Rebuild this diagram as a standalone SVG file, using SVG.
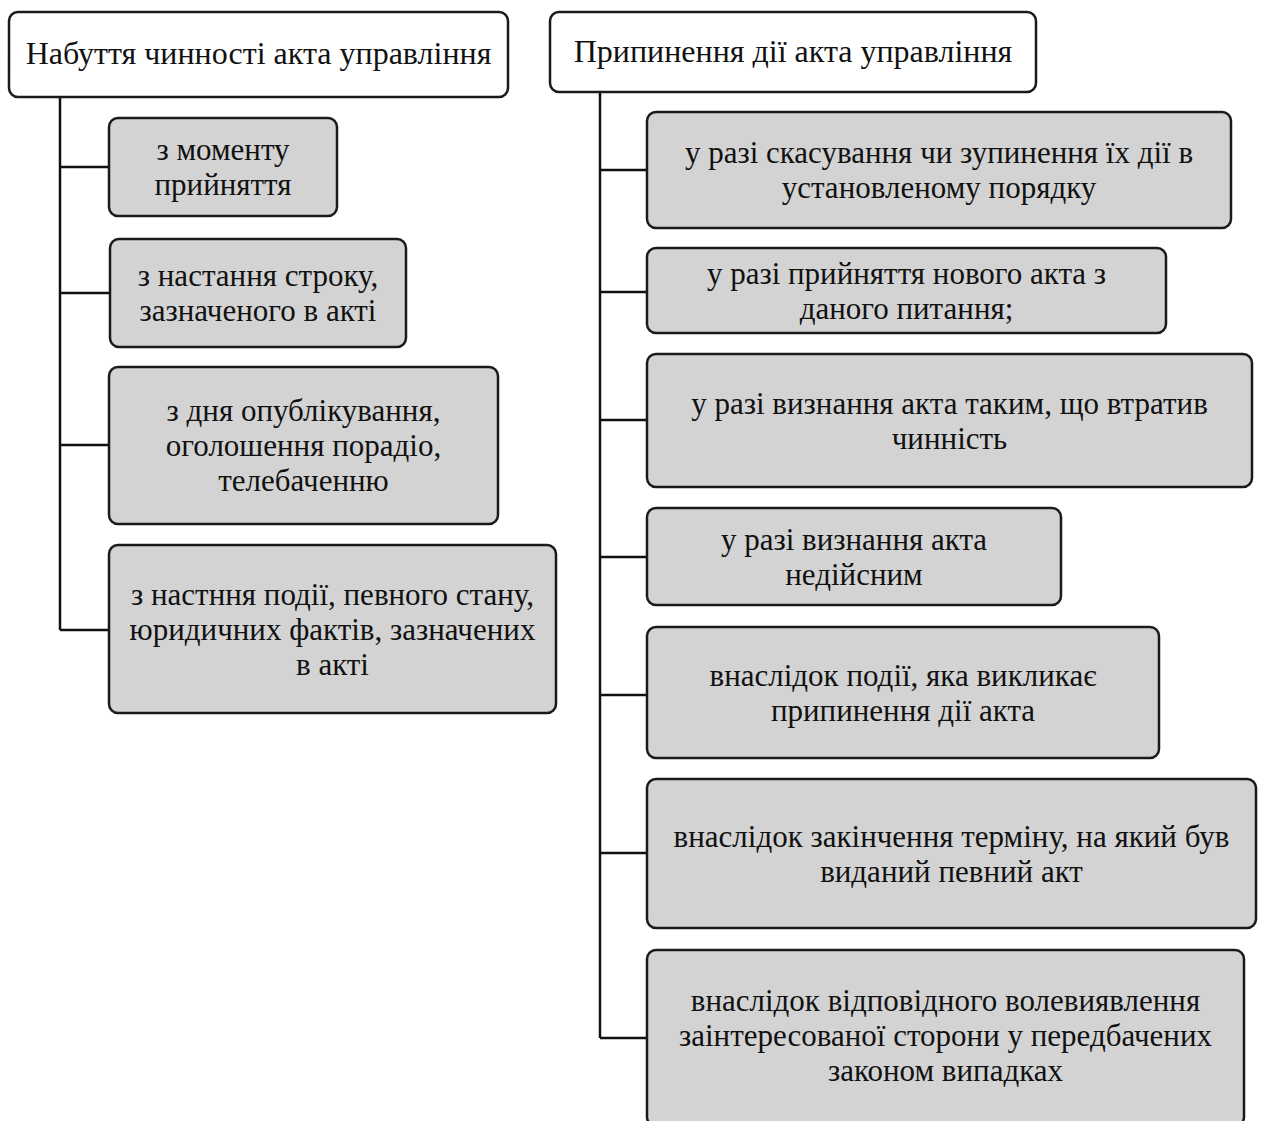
<svg xmlns="http://www.w3.org/2000/svg" width="1264" height="1121" viewBox="0 0 1264 1121">
<style>
.hdr{fill:#ffffff;stroke:#1a1a1a;stroke-width:2.5}
.box{fill:#d3d3d3;stroke:#1a1a1a;stroke-width:2.5}
.t{font-family:"Liberation Serif","Times New Roman",serif;font-size:31px;fill:#111;text-anchor:middle}
.th{font-family:"Liberation Serif","Times New Roman",serif;font-size:32px;fill:#111;text-anchor:middle}
.c{fill:none;stroke:#111;stroke-width:2.5}
</style>
<rect width="1264" height="1121" fill="#ffffff"/>
<g id="connectors">
<path class="c" d="M60,97 V630 M60,167 H109 M60,293 H110 M60,445 H109 M60,630 H109"/>
<path class="c" d="M600,92 V1038 M600,170 H647 M600,292 H647 M600,420 H647 M600,557 H647 M600,695 H647 M600,853 H647 M600,1038 H647"/>
</g>
<g id="h1"><rect class="hdr" x="9" y="12" width="499" height="85" rx="9"/><text class="th" x="258.5" y="64">Набуття чинності акта управління</text></g>
<g id="h2"><rect class="hdr" x="550" y="12" width="486" height="80" rx="9"/><text class="th" x="793" y="62">Припинення дії акта управління</text></g>
<g id="l1"><rect class="box" x="109" y="118" width="228" height="98" rx="9"/><text class="t" x="223" y="160"><tspan x="223">з моменту</tspan><tspan x="223" dy="35">прийняття</tspan></text></g>
<g id="l2"><rect class="box" x="110" y="239" width="296" height="108" rx="9"/><text class="t" x="258" y="286"><tspan x="258">з настання строку,</tspan><tspan x="258" dy="35">зазначеного в акті</tspan></text></g>
<g id="l3"><rect class="box" x="109" y="367" width="389" height="157" rx="9"/><text class="t" x="303.5" y="421"><tspan x="303.5">з дня опублікування,</tspan><tspan x="303.5" dy="35">оголошення порадіо,</tspan><tspan x="303.5" dy="35">телебаченню</tspan></text></g>
<g id="l4"><rect class="box" x="109" y="545" width="447" height="168" rx="9"/><text class="t" x="332.5" y="604.5"><tspan x="332.5">з настння події, певного стану,</tspan><tspan x="332.5" dy="35">юридичних фактів, зазначених</tspan><tspan x="332.5" dy="35">в акті</tspan></text></g>
<g id="r1"><rect class="box" x="647" y="112" width="584" height="116" rx="9"/><text class="t" x="939" y="163"><tspan x="939">у разі скасування чи зупинення їх дії в</tspan><tspan x="939" dy="35">установленому порядку</tspan></text></g>
<g id="r2"><rect class="box" x="647" y="248" width="519" height="85" rx="9"/><text class="t" x="906.5" y="283.5"><tspan x="906.5">у разі прийняття нового акта з</tspan><tspan x="906.5" dy="35">даного питання;</tspan></text></g>
<g id="r3"><rect class="box" x="647" y="354" width="605" height="133" rx="9"/><text class="t" x="949.5" y="413.5"><tspan x="949.5">у разі визнання акта таким, що втратив</tspan><tspan x="949.5" dy="35">чинність</tspan></text></g>
<g id="r4"><rect class="box" x="647" y="508" width="414" height="97" rx="9"/><text class="t" x="854" y="549.5"><tspan x="854">у разі визнання акта</tspan><tspan x="854" dy="35">недійсним</tspan></text></g>
<g id="r5"><rect class="box" x="647" y="627" width="512" height="131" rx="9"/><text class="t" x="903" y="685.5"><tspan x="903">внаслідок події, яка викликає</tspan><tspan x="903" dy="35">припинення дії акта</tspan></text></g>
<g id="r6"><rect class="box" x="647" y="779" width="609" height="149" rx="9"/><text class="t" x="951.5" y="846.5"><tspan x="951.5">внаслідок закінчення терміну, на який був</tspan><tspan x="951.5" dy="35">виданий певний акт</tspan></text></g>
<g id="r7"><rect class="box" x="647" y="950" width="597" height="176" rx="9"/><text class="t" x="945.5" y="1011"><tspan x="945.5">внаслідок відповідного волевиявлення</tspan><tspan x="945.5" dy="35">заінтересованої сторони у передбачених</tspan><tspan x="945.5" dy="35">законом випадках</tspan></text></g>
</svg>
